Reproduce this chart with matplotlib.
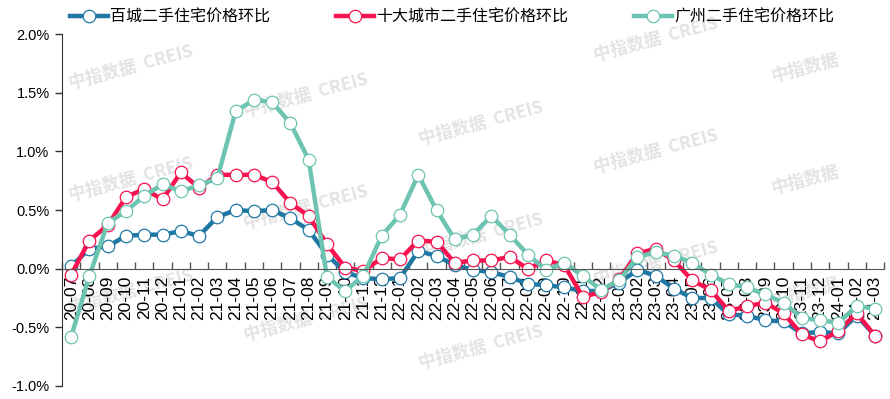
import matplotlib
matplotlib.use("Agg")
import matplotlib.pyplot as plt
from matplotlib.ticker import FixedLocator, FuncFormatter

plt.rcParams['font.family'] = ['Liberation Sans', 'Noto Sans CJK SC', 'DejaVu Sans']

# 月份
months = ['20-07', '20-08', '20-09', '20-10', '20-11', '20-12',
          '21-01', '21-02', '21-03', '21-04', '21-05', '21-06',
          '21-07', '21-08', '21-09', '21-10', '21-11', '21-12',
          '22-01', '22-02', '22-03', '22-04', '22-05', '22-06',
          '22-07', '22-08', '22-09', '22-10', '22-11', '22-12',
          '23-01', '23-02', '23-03', '23-04', '23-05', '23-06',
          '23-07', '23-08', '23-09', '23-10', '23-11', '23-12',
          '24-01', '24-02', '24-03']

# 环比 (%)
baicheng = [0.02, 0.17, 0.19, 0.28, 0.29, 0.29,
            0.32, 0.28, 0.44, 0.50, 0.49, 0.50,
            0.43, 0.33, 0.12, -0.03, -0.08, -0.09,
            -0.08, 0.15, 0.11, 0.03, -0.01, -0.03,
            -0.07, -0.13, -0.14, -0.16, -0.19, -0.19,
            -0.12, -0.01, -0.06, -0.17, -0.25, -0.25,
            -0.39, -0.40, -0.44, -0.45, -0.55, -0.54,
            -0.55, -0.40, -0.57]

shida = [-0.05, 0.24, 0.37, 0.61, 0.68, 0.59,
         0.82, 0.69, 0.80, 0.80, 0.80, 0.74,
         0.56, 0.45, 0.21, 0.01, -0.02, 0.09,
         0.08, 0.24, 0.23, 0.05, 0.07, 0.07,
         0.10, 0.00, 0.07, 0.03, -0.24, -0.20,
         -0.09, 0.13, 0.17, 0.07, -0.10, -0.18,
         -0.36, -0.32, -0.29, -0.38, -0.56, -0.62,
         -0.53, -0.38, -0.57]

guangzhou = [-0.58, -0.06, 0.39, 0.49, 0.62, 0.72,
             0.66, 0.71, 0.77, 1.34, 1.44, 1.42,
             1.24, 0.93, -0.07, -0.19, -0.06, 0.28,
             0.46, 0.80, 0.50, 0.25, 0.29, 0.45,
             0.29, 0.12, -0.01, 0.05, -0.06, -0.18,
             -0.10, 0.10, 0.14, 0.11, 0.05, -0.05,
             -0.13, -0.16, -0.22, -0.29, -0.42, -0.44,
             -0.46, -0.32, -0.34]

series_names = ['百城二手住宅价格环比', '十大城市二手住宅价格环比', '广州二手住宅价格环比']
colors = ['#1f78a4', '#f7134f', '#6dc4b1']

fig = plt.figure(figsize=(8.9, 3.99), dpi=100)
ax = fig.add_axes([0.0697, 0.0326, 0.9236, 0.882])
ax.patch.set_alpha(0)

# 水印 (只画完整落在图内的)
for k in range(5):
    for m in range(-1, 4):
        xc = 131 + 175 * k
        yc = 68 + 28 * k + 112 * m
        txt = '中指数据  CREIS'
        if k == 4:
            txt = '中指数据'
            xc = 805
        if yc < 40 or yc > 360:
            continue
        fig.text(xc / 890, 1 - yc / 399, txt, rotation=15,
                 ha='center', va='center', fontsize=12.5, fontweight='bold',
                 color='#e3e3e3', family=['Noto Sans CJK SC'], zorder=-5)

x = list(range(len(months)))
for vals, name, c in zip([baicheng, shida, guangzhou], series_names, colors):
    ax.plot(x, vals, color=c, lw=3.2, marker='o', markersize=9,
            markerfacecolor='white', markeredgecolor=c, markeredgewidth=0.9,
            label=name, solid_joinstyle='round')

ax.set_xlim(-0.5, len(months) - 0.5)
ax.set_ylim(-1.0, 2.0)

ax.yaxis.set_major_locator(FixedLocator([-1.0, -0.5, 0.0, 0.5, 1.0, 1.5, 2.0]))
ax.yaxis.set_major_formatter(FuncFormatter(lambda v, p: '%.1f%%' % v))
ax.tick_params(axis='y', direction='out', length=5, width=1, labelsize=10.5,
               color='#333333', pad=4)

ax.spines['top'].set_visible(False)
ax.spines['right'].set_visible(False)
ax.spines['left'].set_color('#333333')
ax.spines['bottom'].set_position(('data', 0))
ax.spines['bottom'].set_color('#555555')

ax.set_xticks(x)
ax.set_xticklabels(months, rotation=90, fontsize=12.5, va='top')
ax.tick_params(axis='x', which='major', length=0, pad=5)
ax.set_xticks([i - 0.5 for i in range(len(months) + 1)], minor=True)
ax.tick_params(axis='x', which='minor', direction='in', length=5, width=1, color='#555555')

fig.legend(loc='center left', bbox_to_anchor=(0.062, 0.957), ncol=3,
           frameon=False, handlelength=2.4, columnspacing=4.1,
           handletextpad=0.15, prop={'family': ['Noto Sans CJK SC'], 'size': 11.5})

fig.savefig('out.png', dpi=100)
